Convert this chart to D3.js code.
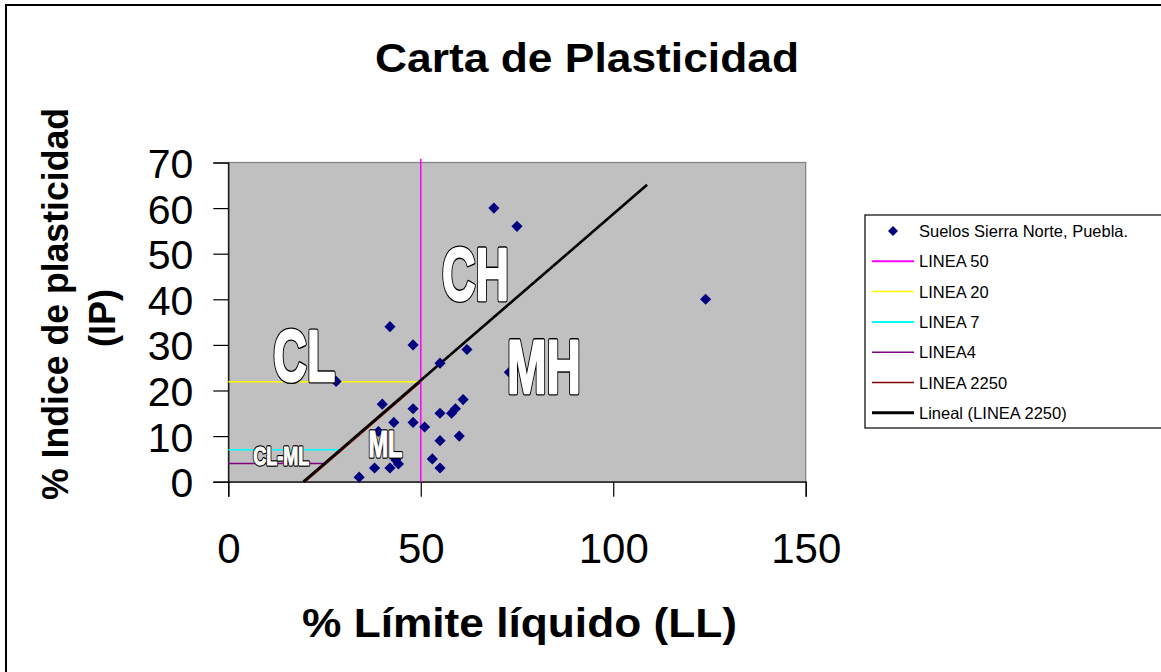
<!DOCTYPE html>
<html>
<head>
<meta charset="utf-8">
<script src="https://cdn.jsdelivr.net/npm/d3@7/dist/d3.min.js"></script>
<style>
  html, body { margin: 0; padding: 0; background: #fff; }
  svg { display: block; }
  text { font-family: "Liberation Sans", Arial, sans-serif; }
</style>
</head>
<body>
<svg id="chart" width="1161" height="672"></svg>
<script>
// Soil samples: liquid limit (LL) and plasticity index (IP)
const sampleLL = [69, 75, 42, 48, 62, 55, 28, 73, 40, 48, 61, 55, 58, 59, 43, 48, 51, 60, 55, 39, 43.5, 44.2, 38, 42, 34, 53, 55, 124];
const sampleIP = [60, 56, 34, 30, 29, 26, 22, 24, 17, 16, 18, 15, 15, 16, 13, 13, 12, 10, 9, 11, 4.8, 3.9, 3, 3, 1, 5, 3, 40];

// Reference lines of the chart
const linea50 = [[50, 0], [50, 70.8]];
const linea20 = [[0, 21.9], [50, 21.9]];
const linea7 = [[0, 7], [29.6, 7]];
const linea4 = [[0, 4], [25.5, 4]];
const linea2250 = [[20, 0], [50, 21.9]];
const trendLinea2250 = [[19.5, 0], [108.8, 65.1]];

// Axis ticks
const xTicks = [0, 50, 100, 150];
const yTicks = [0, 10, 20, 30, 40, 50, 60, 70];

// Zone labels (anchored at LL, IP of their baseline start)
const zoneNames = ["CL", "CH", "MH", "ML", "CL-ML"];
const zoneLL = [11.7, 55.5, 72.4, 36.4, 6.5];
const zoneIP = [22, 39.8, 19.4, 5.35, 3.66];

const legendNames = ["Suelos Sierra Norte, Puebla.", "LINEA 50", "LINEA 20", "LINEA 7", "LINEA4", "LINEA 2250", "Lineal (LINEA 2250)"];

const svg = d3.select("#chart");

// outer chart frame
svg.append("rect").attr("x", 6).attr("y", 5).attr("width", 1200).attr("height", 700)
  .attr("fill", "#fff").attr("stroke", "#000").attr("stroke-width", 2);

const plot = { left: 228.3, right: 805.7, top: 162.5, bottom: 481.7 };
const x = d3.scaleLinear().domain([0, 150]).range([plot.left, plot.right]);
const y = d3.scaleLinear().domain([0, 70]).range([plot.bottom, plot.top]);

// plot area
svg.append("rect")
  .attr("x", plot.left).attr("y", plot.top)
  .attr("width", plot.right - plot.left).attr("height", plot.bottom - plot.top)
  .attr("fill", "#C0C0C0").attr("stroke", "#808080").attr("stroke-width", 1.2);

// title
svg.append("text").attr("x", 587).attr("y", 72).attr("text-anchor", "middle")
  .attr("font-size", 40).attr("font-weight", "bold")
  .attr("textLength", 424).attr("lengthAdjust", "spacingAndGlyphs")
  .text("Carta de Plasticidad");

// axes
const xAxis = d3.axisBottom(x).tickValues(xTicks).tickSize(15).tickFormat(d3.format("d"));
const yAxis = d3.axisLeft(y).tickValues(yTicks).tickSize(15).tickFormat(d3.format("d"));

const gx = svg.append("g").attr("transform", `translate(0,${plot.bottom})`).call(xAxis);
gx.select(".domain").attr("stroke", "#000").attr("stroke-width", 1.2);
gx.selectAll(".tick line").attr("stroke", "#000").attr("stroke-width", 1.2);
gx.selectAll(".tick text").attr("font-size", 42).attr("fill", "#000")
  .attr("font-family", "Liberation Sans, Arial, sans-serif")
  .attr("dy", null).attr("y", 81);

const gy = svg.append("g").attr("transform", `translate(${plot.left},0)`).call(yAxis);
gy.select(".domain").attr("stroke", "#000").attr("stroke-width", 1.2);
gy.selectAll(".tick line").attr("stroke", "#000").attr("stroke-width", 1.2);
gy.selectAll(".tick text").attr("font-size", 41).attr("fill", "#000")
  .attr("font-family", "Liberation Sans, Arial, sans-serif")
  .attr("dy", null).attr("x", -35).attr("y", 15);

// axis titles
svg.append("text").attr("x", 519.5).attr("y", 637).attr("text-anchor", "middle")
  .attr("font-size", 40).attr("font-weight", "bold")
  .attr("textLength", 435).attr("lengthAdjust", "spacingAndGlyphs")
  .text("% Límite líquido (LL)");

svg.append("text").attr("transform", "translate(68,304) rotate(-90)")
  .attr("text-anchor", "middle").attr("font-size", 36).attr("font-weight", "bold")
  .attr("textLength", 392).attr("lengthAdjust", "spacingAndGlyphs")
  .text("% Indice de plasticidad");
svg.append("text").attr("transform", "translate(115,318) rotate(-90)")
  .attr("text-anchor", "middle").attr("font-size", 36).attr("font-weight", "bold")
  .text("(IP)");

// reference lines
const line = d3.line().x(d => x(d[0])).y(d => y(d[1]));
const refLines = [
  { pts: linea20, color: "#FFFF00", w: 1.5 },
  { pts: linea7, color: "#00FFFF", w: 1.5 },
  { pts: linea4, color: "#800080", w: 1.5 },
  { pts: linea2250, color: "#800000", w: 1.5 },
  { pts: linea50, color: "#FF00FF", w: 1.5 },
  { pts: trendLinea2250, color: "#000000", w: 2.6 }
];
svg.append("g").selectAll("path").data(refLines).join("path")
  .attr("d", d => line(d.pts)).attr("fill", "none")
  .attr("stroke", d => d.color).attr("stroke-width", d => d.w);

// sample points (navy diamonds)
svg.append("g").selectAll("path").data(sampleLL.map((v, i) => [v, sampleIP[i]])).join("path")
  .attr("transform", d => `translate(${x(d[0])},${y(d[1])}) rotate(45)`)
  .attr("d", d3.symbol().type(d3.symbolSquare).size(62))
  .attr("fill", "#000080");

// zone labels: heavy white letters with a thin black outline
// (a wide black stroke underneath, then white glyphs widened by a white stroke)
const zoneSize = [72, 74, 76, 36, 26];
const zoneWidth = [62, 67, 74, 34, 56];
const zoneLayers = [
  { fill: "#000", stroke: "#000", big: 5.2, small: 3.6 },
  { fill: "#fff", stroke: "#fff", big: 2.4, small: 1.2 }
];
zoneLayers.forEach(layer => {
  svg.append("g").selectAll("text").data(zoneNames).join("text")
    .attr("x", (d, i) => x(zoneLL[i]))
    .attr("y", (d, i) => y(zoneIP[i]))
    .attr("font-family", "Liberation Sans, Arial, sans-serif")
    .attr("font-weight", "bold")
    .attr("font-size", (d, i) => zoneSize[i])
    .attr("textLength", (d, i) => zoneWidth[i])
    .attr("lengthAdjust", "spacingAndGlyphs")
    .attr("fill", layer.fill).attr("stroke", layer.stroke)
    .attr("stroke-linejoin", "round")
    .attr("stroke-width", (d, i) => zoneSize[i] > 50 ? layer.big : layer.small)
    .text(d => d);
});

// legend
const lg = svg.append("g");
lg.append("rect").attr("x", 865).attr("y", 215).attr("width", 320).attr("height", 213)
  .attr("fill", "#fff").attr("stroke", "#000").attr("stroke-width", 1.2);
const legendColors = [null, "#FF00FF", "#FFFF00", "#00FFFF", "#800080", "#800000", "#000000"];
const legendWidths = [0, 2, 1.5, 2, 1.5, 1.5, 3];
const rowY = i => 231 + i * 30.3;
legendNames.forEach((name, i) => {
  if (i === 0) {
    lg.append("path").attr("transform", `translate(893,${rowY(i)}) rotate(45)`)
      .attr("d", d3.symbol().type(d3.symbolSquare).size(50)).attr("fill", "#000080");
  } else {
    lg.append("line").attr("x1", 872).attr("x2", 914).attr("y1", rowY(i)).attr("y2", rowY(i))
      .attr("stroke", legendColors[i]).attr("stroke-width", legendWidths[i]);
  }
  lg.append("text").attr("x", 919).attr("y", rowY(i) + 6).attr("font-size", 16.5)
    .attr("fill", "#000").text(name);
});
</script>
</body>
</html>
